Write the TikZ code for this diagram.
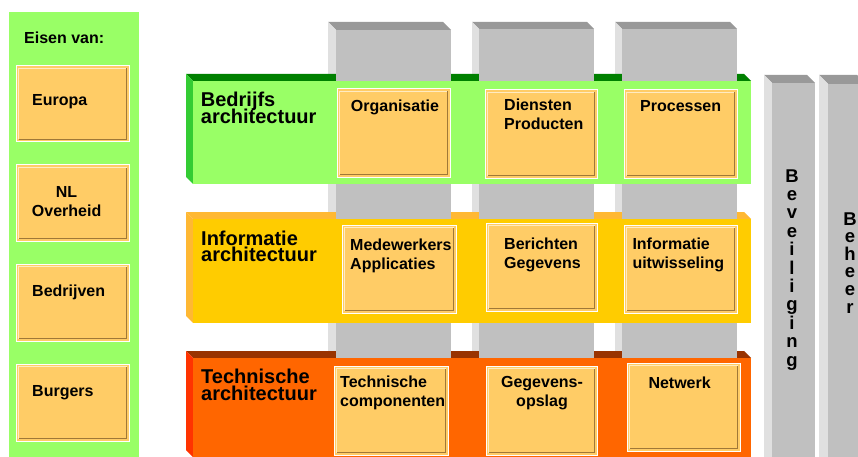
\documentclass[tikz,border=0pt]{standalone}
\usepackage{fontspec}
\setmainfont{Liberation Sans}
\usepackage{tikz}
\setlength{\lineskiplimit}{-20pt}
\definecolor{eisgroen}{HTML}{99FF66}
\definecolor{tegel}{HTML}{FFCC66}
\definecolor{tegellicht}{HTML}{FFEBC2}
\definecolor{tegeldonker}{HTML}{A07838}
\definecolor{kolomvoor}{HTML}{C0C0C0}
\definecolor{kolomzij}{HTML}{E0E0E0}
\definecolor{kolomboven}{HTML}{999999}
\definecolor{groenboven}{HTML}{008000}
\definecolor{groenzij}{HTML}{33CC33}
\definecolor{geelvoor}{HTML}{FFCC00}
\definecolor{geelboven}{HTML}{FFB833}
\definecolor{oranjevoor}{HTML}{FF6600}
\definecolor{oranjeboven}{HTML}{993300}
\definecolor{oranjezij}{HTML}{FF3300}
\tikzset{
  tegeltekst/.style={font=\bfseries\fontsize{16}{19}\selectfont,
    inner sep=0pt, anchor=base west, align=left},
  laagtitel/.style={font=\bfseries\fontsize{20}{16.7}\selectfont,
    inner sep=0pt, anchor=base west, align=left},
  kolomkop/.style={font=\bfseries\fontsize{19.5}{20}\selectfont, inner sep=0pt, anchor=base west},
  staand/.style={font=\bfseries\fontsize{18.5}{18.4}\selectfont,
    inner sep=0pt, anchor=base, align=center}
}
\newcommand\tegelvak[4]{
\fill[tegel] (#1,#2) rectangle (#3,#4);
\draw[white, line width=1pt] (#1,#2) rectangle (#3,#4);
\draw[tegellicht, line width=1pt] ({#1+2.5},{#4-2.5}) |- ({#3-2.5},{#2+2.5});
\draw[tegeldonker, line width=1.2pt] ({#1+2.5},{#4-2.5}) -| ({#3-2.5},{#2+2.5});}
\newcommand\kolom[4]{
\fill[kolomboven] (#1,#4) -- ({#3-#2+#1},#4) -- (#3,{#4+#2-#1}) -- (#2,{#4+#2-#1}) -- cycle;
\fill[kolomzij] (#1,#4) -- (#2,{#4+#2-#1}) -- (#2,457) -- (#1,457) -- cycle;
\fill[kolomvoor] (#2,{#4+#2-#1}) rectangle (#3,457);}
\newcommand\laagboven[2]{
\fill[#2] (186,#1) -- (744,#1) -- (751,{#1+7}) -- (193,{#1+7}) -- cycle;}
\newcommand\laagvoor[4]{
\fill[#3] (186,#1) -- (193,{#1+7}) -- (193,#2) -- (186,{#2-7}) -- cycle;
\fill[#4] (193,{#1+7}) rectangle (751,#2);}

\begin{document}
\begin{tikzpicture}[x=1pt,y=-1pt]
\useasboundingbox (0,0) rectangle (858,457);

\fill[eisgroen] (9,12) rectangle (139,457);
\node[tegeltekst] (eisen) at (24,43.3) {Eisen van:};
\tegelvak{16}{66}{129}{142}
\node[tegeltekst] (europa) at (32,105.3) {Europa};
\tegelvak{16}{165}{129}{241}
\node[tegeltekst, anchor=base, align=center] (overheid) at (66.6,216) {NL\\Overheid};
\tegelvak{16}{264}{129}{341}
\node[tegeltekst] (bedrijven) at (32,296) {Bedrijven};
\tegelvak{16}{364}{129}{441}
\node[tegeltekst] (burgers) at (32,396) {Burgers};

\kolom{328}{336}{451}{22}
\kolom{472}{479}{594}{22}
\kolom{615}{622}{737}{22}
\kolom{764}{772}{815}{75}
\kolom{819}{828}{866}{75}
\node[kolomkop] (wie) at (345.7,54) {Wie?};
\node[kolomkop] (wat) at (489,54) {Wat?};
\node[kolomkop] (hoe) at (632.3,54) {Hoe?};
\node[staand] (beveiliging) at (792,366) {B\\e\\v\\e\\i\\l\\i\\g\\i\\n\\g};
\node[staand, font=\bfseries\fontsize{18.5}{17.6}\selectfont] (beheer) at (850,313) {B\\e\\h\\e\\e\\r};

\laagboven{74}{groenboven}
\laagboven{212}{geelboven}
\laagboven{351}{oranjeboven}
\fill[kolomvoor] (336,30) rectangle (451,457);
\fill[kolomvoor] (479,29) rectangle (594,457);
\fill[kolomvoor] (622,29) rectangle (737,457);
\laagvoor{74}{184}{groenzij}{eisgroen}
\laagvoor{212}{323}{geelboven}{geelvoor}
\laagvoor{351}{457}{oranjezij}{oranjevoor}

\node[laagtitel] (bedrijfs) at (200.7,123.3) {Bedrijfs\\architectuur};
\node[laagtitel] (informatie) at (201,261.7) {Informatie\\architectuur};
\node[laagtitel] (technische) at (201,400) {Technische\\architectuur};

\tegelvak{337}{89}{450}{177}
\node[tegeltekst] (organisatie) at (350.7,111.5) {Organisatie};
\tegelvak{485}{90}{597}{178}
\node[tegeltekst] (diensten) at (504,130) {Diensten\\Producten};
\tegelvak{624}{90}{737}{178}
\node[tegeltekst] (processen) at (640,111.5) {Processen};

\tegelvak{342}{225}{456}{313}
\node[tegeltekst] (medewerkers) at (350,269) {Medewerkers\\Applicaties};
\tegelvak{486}{223}{597}{311}
\node[tegeltekst] (berichten) at (504,268.3) {Berichten\\Gegevens};
\tegelvak{624}{225}{737}{313}
\node[tegeltekst] (uitwisseling) at (632.3,268.3) {Informatie\\uitwisseling};

\tegelvak{334}{366}{448}{455}
\node[tegeltekst] (componenten) at (340,406.7) {Technische\\componenten};
\tegelvak{486}{366}{597}{455}
\node[tegeltekst, anchor=base, align=center] (opslag) at (542,406.7) {Gegevens-\\opslag};
\tegelvak{627}{363}{740}{451}
\node[tegeltekst] (netwerk) at (648.3,388.3) {Netwerk};
\end{tikzpicture}
\end{document}
